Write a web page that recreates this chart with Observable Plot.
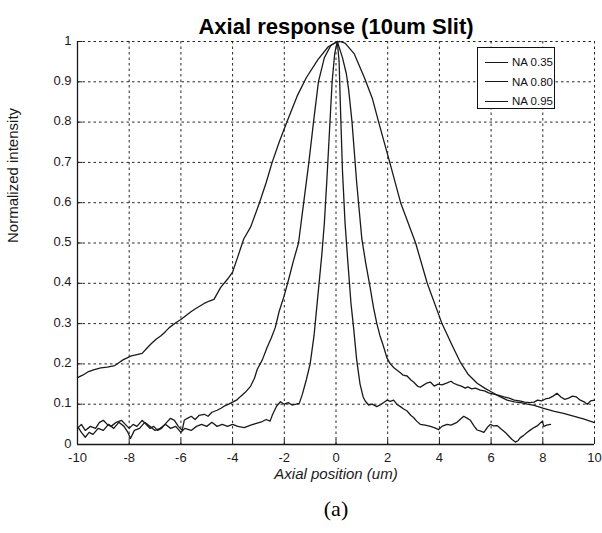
<!DOCTYPE html>
<html><head><meta charset="utf-8">
<script src="https://cdn.jsdelivr.net/npm/d3@7"></script>
<script src="https://cdn.jsdelivr.net/npm/@observablehq/plot@0.6"></script>
<style>
body{margin:0;background:#fff;}
#wrap{position:relative;width:602px;height:533px;font-family:"Liberation Sans",Arial,sans-serif;}
#legend{position:absolute;left:477px;top:47px;width:78px;height:62px;border:1px solid #111;background:#fff;box-sizing:border-box;}
.lrow{position:absolute;left:7px;height:12px;display:flex;align-items:center;font-size:11.5px;color:#111;}
.lrow span.sw{display:inline-block;width:23px;border-top:1.3px solid #1a1a1a;margin-right:4px;}
</style></head><body><div id="wrap"></div>
<script>
const title = "Axial response (10um Slit)";
const xLabel = "Axial position (um)";
const yLabel = "Normalized intensity";
const caption = "(a)";
const seriesNames = ["NA 0.35", "NA 0.80", "NA 0.95"];
const xTicks = [-10, -8, -6, -4, -2, 0, 2, 4, 6, 8, 10];
const xTickLabels = ["-10", "-8", "-6", "-4", "-2", "0", "2", "4", "6", "8", "10"];
const yTicks = [0, 0.1, 0.2, 0.3, 0.4, 0.5, 0.6, 0.7, 0.8, 0.9, 1];
const yTickLabels = ["0", "0.1", "0.2", "0.3", "0.4", "0.5", "0.6", "0.7", "0.8", "0.9", "1"];

// NA 0.35 (widest)
const na035X = [-10, -9.8, -9.6, -9.35, -9.1, -8.85, -8.56, -8.4, -8.24, -7.92, -7.7, -7.5, -7.3, -7.15, -6.95, -6.77, -6.6, -6.45, -6.2, -6.0, -5.8, -5.6, -5.36, -5.1, -4.9, -4.72, -4.46, -4.2, -4.0, -3.83, -3.57, -3.3, -2.96, -2.7, -2.47, -2.2, -1.9, -1.5, -1.15, -0.7, -0.3, 0.0, 0.15, 0.35, 0.7, 1.1, 1.4, 1.65, 2.08, 2.5, 3.08, 3.53, 4.1, 4.5, 4.82, 5.1, 5.46, 5.75, 6.0, 6.3, 6.62, 6.9, 7.15, 7.4, 7.67, 8.0, 8.45, 8.8, 9.22, 9.6, 10];
const na035Y = [0.166, 0.172, 0.18, 0.186, 0.19, 0.192, 0.196, 0.203, 0.21, 0.22, 0.223, 0.226, 0.24, 0.25, 0.262, 0.27, 0.28, 0.29, 0.302, 0.31, 0.32, 0.33, 0.34, 0.35, 0.356, 0.36, 0.39, 0.41, 0.428, 0.46, 0.51, 0.54, 0.6, 0.65, 0.7, 0.75, 0.8, 0.865, 0.91, 0.955, 0.987, 0.998, 1.0, 0.996, 0.97, 0.91, 0.86, 0.8, 0.7, 0.6, 0.5, 0.4, 0.3, 0.245, 0.203, 0.175, 0.152, 0.14, 0.131, 0.12, 0.11, 0.106, 0.104, 0.1, 0.097, 0.09, 0.082, 0.077, 0.07, 0.063, 0.054];

// NA 0.80 (medium)
const na080X = [-10, -9.85, -9.7, -9.5, -9.3, -9.15, -9.0, -8.85, -8.7, -8.5, -8.3, -8.15, -8.0, -7.85, -7.7, -7.5, -7.35, -7.2, -7.05, -6.9, -6.75, -6.55, -6.4, -6.25, -6.1, -5.95, -5.87, -5.75, -5.6, -5.45, -5.3, -5.1, -4.95, -4.8, -4.6, -4.45, -4.33, -4.15, -4.0, -3.85, -3.68, -3.5, -3.3, -3.15, -3.05, -2.85, -2.67, -2.5, -2.35, -2.2, -2.0, -1.83, -1.65, -1.45, -1.25, -1.05, -0.87, -0.68, -0.45, -0.2, 0.05, 0.25, 0.4, 0.49, 0.62, 0.8, 1.0, 1.15, 1.32, 1.45, 1.58, 1.7, 1.83, 1.97, 2.1, 2.25, 2.49, 2.6, 2.75, 2.9, 3.0, 3.15, 3.26, 3.4, 3.5, 3.65, 3.8, 3.95, 4.1, 4.3, 4.45, 4.55, 4.7, 4.85, 5.0, 5.1, 5.25, 5.4, 5.58, 5.75, 5.9, 6.1, 6.3, 6.5, 6.7, 6.9, 7.1, 7.3, 7.5, 7.66, 7.8, 7.95, 8.1, 8.25, 8.4, 8.55, 8.7, 8.85, 9.0, 9.15, 9.3, 9.45, 9.6, 9.72, 9.85, 10];
const na080Y = [0.04, 0.05, 0.035, 0.045, 0.04, 0.055, 0.06, 0.05, 0.045, 0.055, 0.06, 0.05, 0.04, 0.05, 0.045, 0.06, 0.05, 0.04, 0.045, 0.035, 0.04, 0.055, 0.065, 0.06, 0.045, 0.035, 0.06, 0.065, 0.07, 0.062, 0.072, 0.075, 0.07, 0.08, 0.085, 0.09, 0.095, 0.1, 0.105, 0.11, 0.12, 0.13, 0.145, 0.165, 0.186, 0.21, 0.24, 0.265, 0.29, 0.33, 0.37, 0.41, 0.455, 0.5, 0.6, 0.7, 0.8, 0.9, 0.96, 0.99, 1.0, 0.96, 0.92, 0.88, 0.8, 0.65, 0.51, 0.45, 0.39, 0.34, 0.3, 0.27, 0.245, 0.215, 0.2, 0.19, 0.178, 0.172, 0.17, 0.16, 0.155, 0.145, 0.142, 0.148, 0.152, 0.155, 0.145, 0.15, 0.148, 0.153, 0.157, 0.152, 0.148, 0.145, 0.14, 0.143, 0.138, 0.14, 0.135, 0.133, 0.128, 0.125, 0.122, 0.118, 0.115, 0.11, 0.108, 0.105, 0.104, 0.105, 0.11, 0.108, 0.113, 0.115, 0.12, 0.127, 0.118, 0.112, 0.115, 0.12, 0.118, 0.11, 0.106, 0.1, 0.108, 0.11];

// NA 0.95 (narrowest)
const na095X = [-10, -9.85, -9.7, -9.55, -9.4, -9.2, -9.0, -8.8, -8.6, -8.4, -8.2, -8.05, -7.95, -7.8, -7.6, -7.4, -7.2, -7.0, -6.8, -6.6, -6.4, -6.2, -6.0, -5.85, -5.6, -5.4, -5.2, -5.0, -4.8, -4.6, -4.4, -4.2, -4.0, -3.8, -3.55, -3.3, -3.05, -2.85, -2.7, -2.55, -2.45, -2.3, -2.15, -2.0, -1.85, -1.7, -1.55, -1.42, -1.3, -1.15, -1.0, -0.85, -0.7, -0.55, -0.45, -0.35, -0.25, -0.15, -0.05, 0.05, 0.12, 0.18, 0.25, 0.35, 0.45, 0.58, 0.68, 0.8, 0.93, 1.05, 1.13, 1.26, 1.4, 1.58, 1.75, 1.97, 2.1, 2.23, 2.35, 2.49, 2.62, 2.75, 2.9, 3.0, 3.12, 3.26, 3.45, 3.65, 3.8, 3.97, 4.1, 4.29, 4.45, 4.68, 4.8, 4.94, 5.05, 5.2, 5.35, 5.46, 5.6, 5.72, 5.85, 5.97, 6.1, 6.23, 6.4, 6.55, 6.7, 6.8, 6.94, 7.05, 7.13, 7.25, 7.39, 7.5, 7.66, 7.8, 7.98, 8.04, 8.15, 8.3];
const na095Y = [0.045, 0.03, 0.018, 0.03, 0.025, 0.04, 0.035, 0.05, 0.04, 0.055, 0.045, 0.03, 0.015, 0.035, 0.04, 0.055, 0.045, 0.035, 0.04, 0.05, 0.04, 0.045, 0.03, 0.04, 0.035, 0.045, 0.05, 0.045, 0.055, 0.045, 0.05, 0.045, 0.05, 0.045, 0.042, 0.048, 0.053, 0.057, 0.062, 0.058, 0.075, 0.095, 0.106, 0.1, 0.104, 0.098, 0.1, 0.102, 0.125, 0.16, 0.2, 0.27, 0.37, 0.47, 0.55, 0.66, 0.78, 0.9, 0.97, 1.0, 0.95, 0.82, 0.68, 0.55, 0.46, 0.35, 0.29, 0.21, 0.15, 0.118, 0.108, 0.098, 0.1, 0.094, 0.1, 0.11, 0.107, 0.11, 0.1, 0.094, 0.088, 0.083, 0.072, 0.067, 0.058, 0.05, 0.048, 0.045, 0.042, 0.037, 0.045, 0.05, 0.048, 0.055, 0.062, 0.07, 0.066, 0.06, 0.045, 0.036, 0.033, 0.03, 0.042, 0.05, 0.046, 0.047, 0.038, 0.03, 0.02, 0.013, 0.006, 0.01, 0.017, 0.022, 0.03, 0.035, 0.042, 0.047, 0.058, 0.045, 0.048, 0.05];

const seriesX = [na035X, na080X, na095X];
const seriesY = [na035Y, na080Y, na095Y];
const rows = [];
seriesNames.forEach((s, k) => seriesX[k].forEach((x, i) => rows.push({series: s, x, y: seriesY[k][i]})));

const ink = "#1a1a1a";
const gridStyle = {stroke: "#000", strokeOpacity: 0.85, strokeWidth: 1, strokeDasharray: "2.5,3"};

const chart = Plot.plot({
  width: 602, height: 533,
  marginLeft: 77, marginRight: 8, marginTop: 41, marginBottom: 89,
  style: {fontFamily: "'Liberation Sans', Arial, sans-serif", background: "#fff", color: ink},
  x: {domain: [-10, 10]},
  y: {domain: [0, 1]},
  marks: [
    Plot.gridX(xTicks.slice(1), gridStyle),
    Plot.gridY(yTicks.slice(1), gridStyle),
    Plot.ruleX([-10], {stroke: ink, strokeWidth: 1.3}),
    Plot.ruleY([0], {stroke: ink, strokeWidth: 1.3}),
    Plot.ruleX(xTicks, {y1: 0, y2: 0.012, stroke: ink}),
    Plot.ruleY(yTicks, {x1: -10, x2: -9.8, stroke: ink}),
    Plot.axisX(xTicks, {tickSize: 0, tickPadding: 8, fontSize: 13, label: null,
      tickFormat: d => xTickLabels[xTicks.indexOf(d)]}),
    Plot.axisY(yTicks, {tickSize: 0, tickPadding: 6, fontSize: 13, label: null, dy: -1,
      tickFormat: d => yTickLabels[yTicks.indexOf(d)]}),
    Plot.line(rows, {x: "x", y: "y", z: "series", stroke: ink, strokeWidth: 1.3, curve: "linear"}),
    Plot.text([title], {frameAnchor: "top", dy: -23, fontSize: 22, fontWeight: "bold", fill: "#000"}),
    Plot.text([xLabel], {frameAnchor: "bottom", dy: 34, fontSize: 15, fontStyle: "italic", fill: ink}),
    Plot.text([yLabel], {frameAnchor: "left", dx: -64, rotate: -90, fontSize: 15, fill: ink}),
    Plot.text([caption], {frameAnchor: "bottom", dy: 71, fontSize: 22, fontFamily: "'Liberation Serif', 'DejaVu Serif', serif", fill: "#000"})
  ]
});

const wrap = document.getElementById("wrap");
wrap.appendChild(chart);
const legend = document.createElement("div");
legend.id = "legend";
seriesNames.forEach((s, i) => {
  const r = document.createElement("div");
  r.className = "lrow";
  r.style.top = (8 + i * 19.5) + "px";
  r.innerHTML = '<span class="sw"></span>' + s;
  legend.appendChild(r);
});
wrap.appendChild(legend);
</script></body></html>
